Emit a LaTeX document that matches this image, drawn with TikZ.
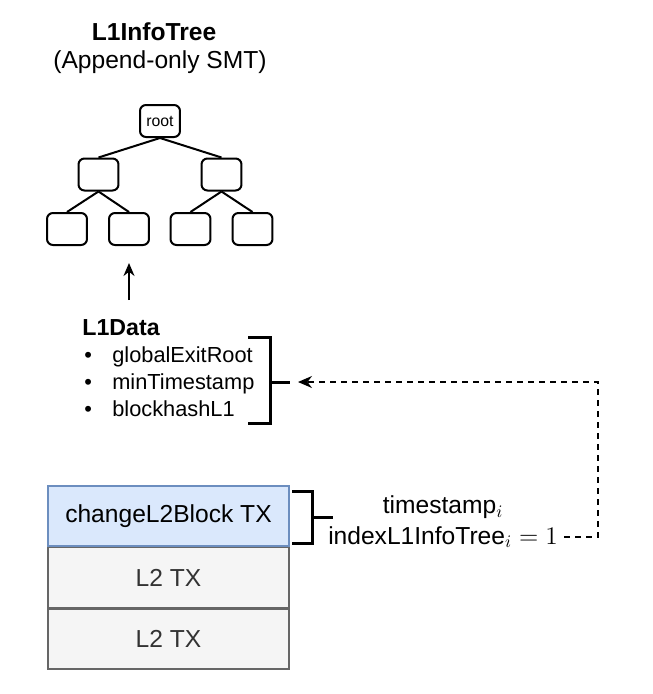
\documentclass[tikz,border=0pt]{standalone}
\usepackage{fontspec}
\setmainfont{Liberation Sans}
\usetikzlibrary{arrows.meta,positioning}
\definecolor{ink}{HTML}{000000}
\definecolor{txblue}{HTML}{DAE8FC}
\definecolor{txblueline}{HTML}{6C8EBF}
\definecolor{txgray}{HTML}{F5F5F5}
\definecolor{txgrayline}{HTML}{666666}
\definecolor{txgraytext}{HTML}{333333}
\newcommand{\listdot}{\makebox[6mm][l]{\hspace{0.4mm}\textbullet}}
\tikzset{
  >=Stealth,
  every node/.style={text=ink},
  treebox/.style={draw=ink,line width=0.4mm,rounded corners=1.2mm,fill=white,minimum width=8mm,minimum height=6.4mm,inner sep=0pt},
  treeedge/.style={draw=ink,line width=0.4mm},
  treearr/.style={->,draw=ink,line width=0.4mm,shorten >=3.4mm,arrows={-Stealth[length=2.6mm,width=2.2mm]}},
  titletxt/.style={font=\fontsize{14}{16}\selectfont,inner sep=0pt},
  listtxt/.style={font=\fontsize{12.4}{15.3}\selectfont,align=left,inner sep=0pt},
  mathtxt/.style={font=\fontsize{14}{16}\selectfont,inner sep=0pt},
  txbox/.style={minimum width=48.2mm,minimum height=12mm,inner sep=0pt,line width=0.3mm,font=\fontsize{14}{16}\selectfont},
  chgbox/.style={txbox,fill=txblue,draw=txblueline},
  l2box/.style={txbox,fill=txgray,draw=txgrayline,text=txgraytext},
  bracket/.style={draw=ink,line width=0.6mm},
  dataarr/.style={draw=ink,line width=0.3mm,dash pattern=on 1.2mm off 1mm,shorten >=1.6mm,arrows={-Stealth[length=2.8mm,width=2.4mm]}}
}

\begin{document}
\begin{tikzpicture}[x=0.02cm,y=-0.02cm]
  \useasboundingbox (0,0) rectangle (653,694);

  % tree
  \node[titletxt] (title) at (154,32) {\textbf{L1InfoTree}};
  \node[titletxt] (subtitle) at (160,62) {(Append-only SMT)};

  \node[treebox,font=\fontsize{9}{10}\selectfont] (root) at (160,121) {root};
  \node[treebox] (mida) at (98.5,174.5) {};
  \node[treebox] (midb) at (221.5,174.5) {};
  \node[treebox] (leafa) at (67,229) {};
  \node[treebox] (leafb) at (129,229) {};
  \node[treebox] (leafc) at (190.5,229) {};
  \node[treebox] (leafd) at (252.5,229) {};

  \draw[treeedge] (root.south) -- (mida.north);
  \draw[treeedge] (root.south) -- (midb.north);
  \draw[treeedge] (mida.south) -- (leafa.north);
  \draw[treeedge] (mida.south) -- (leafb.north);
  \draw[treeedge] (midb.south) -- (leafc.north);
  \draw[treeedge] (midb.south) -- (leafd.north);

  \coordinate (datain) at (129,300);
  \draw[treearr] (datain) -- (leafb.south);

  % L1 data
  \node[listtxt,anchor=west] (l1data) at (82,368) {{\fontsize{13.2}{15.3}\selectfont\textbf{L1Data}}\\\listdot globalExitRoot\\\listdot minTimestamp\\\listdot blockhashL1};
  \draw[bracket] (248,337) -| (270,423) -- (248,423);
  \draw[bracket] (270,382) -- (290,382) coordinate (datatip);

  % L2 block
  \node[chgbox] (chg) at (168.5,516) {changeL2Block TX};
  \node[l2box,below=0pt of chg] (txa) {L2 TX};
  \node[l2box,below=0pt of txa] (txb) {L2 TX};

  \draw[bracket] (292,491) -| (312,543) -- (292,543);
  \draw[bracket] (312,517) -- (333,517);

  \node[mathtxt] (ts) at (443,507) {timestamp$_i$};
  \node[mathtxt] (idx) at (443,537) {indexL1InfoTree$_i = 1$};

  \draw[dataarr] ([xshift=1.2mm]idx.east) -- (598,537) coordinate (turn) |- (datatip);
\end{tikzpicture}
\end{document}
